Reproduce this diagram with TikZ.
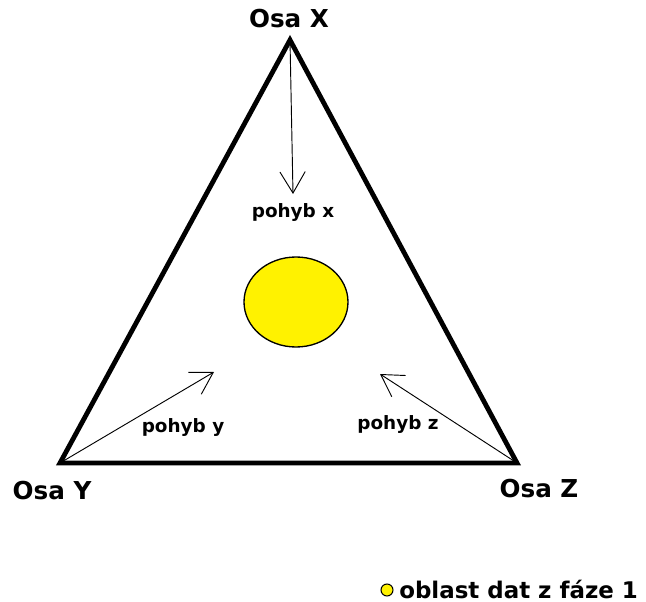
\documentclass[tikz,border=0pt]{standalone}
\usepackage{fontspec}
\setmainfont{DejaVu Sans}
\usetikzlibrary{arrows.meta}
\definecolor{fillyellow}{HTML}{FFF200}
\tikzset{
  axis/.style={line width=3.6pt, line join=miter},
  move/.style={line width=0.7pt, -{Straight Barb[length=16pt, width=19pt, line width=0.7pt]}},
  axlabel/.style={font=\bfseries\fontsize{18.5}{20}\selectfont, inner sep=0pt},
  leglabel/.style={font=\bfseries\fontsize{17.2}{19}\selectfont, inner sep=0pt},
  mvlabel/.style={font=\bfseries\fontsize{13.8}{15}\selectfont, inner sep=0pt},
}
\begin{document}
\begin{tikzpicture}[x=0.75pt, y=-0.75pt]
\useasboundingbox (0,0) rectangle (646,602);
\coordinate (X) at (290,40);
\coordinate (Y) at (60,463);
\coordinate (Z) at (517,463);
\draw[axis] (X) -- (Y) -- (Z) -- cycle;
\node[axlabel] (lx) at (289,19) {Osa X};
\node[axlabel] (ly) at (52,491) {Osa Y};
\node[axlabel] (lz) at (539,489) {Osa Z};
\coordinate (tx) at (293,194);
\coordinate (ty) at (214,372);
\coordinate (tz) at (380,374);
\draw[move] (X) -- (tx);
\draw[move] (Y) -- (ty);
\draw[move] (Z) -- (tz);
\node[mvlabel] (px) at (293,212) {pohyb x};
\node[mvlabel] (py) at (183,427) {pohyb y};
\node[mvlabel] (pz) at (398,424) {pohyb z};
\filldraw[fill=fillyellow, draw=black, line width=1pt] (296,302) ellipse [x radius=52, y radius=45];
\node[draw=black, line width=0.8pt, fill=fillyellow, shape=circle, minimum size=9pt, inner sep=0pt] (leg) at (387,590) {};
\node[leglabel, anchor=west] (legt) at (399,589) {oblast dat z fáze 1};
\end{tikzpicture}
\end{document}
